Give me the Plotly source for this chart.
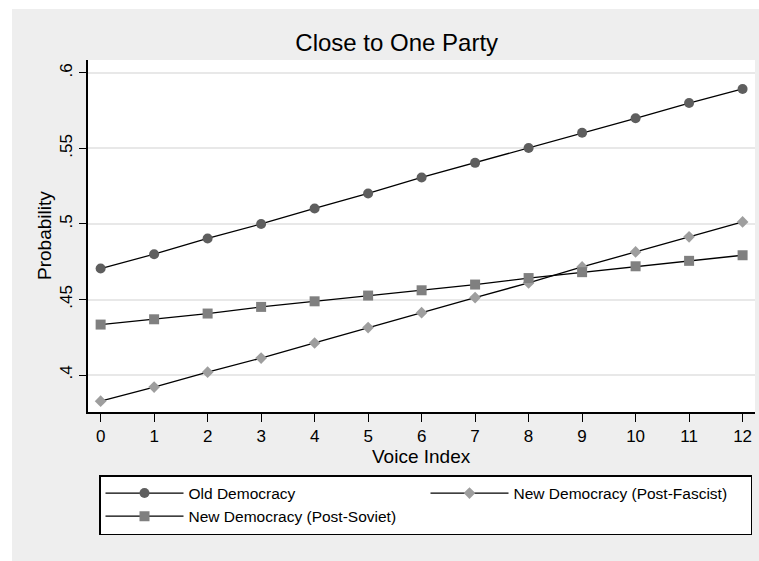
import plotly.graph_objects as go

voice_index = list(range(13))
old_democracy = [0.4705, 0.480, 0.4904, 0.500, 0.5103, 0.5202, 0.5308, 0.5405, 0.5503, 0.5604, 0.570, 0.5801, 0.5894]
post_fascist = [0.3827, 0.392, 0.4019, 0.4112, 0.4212, 0.4314, 0.4413, 0.4513, 0.461, 0.4716, 0.4815, 0.4915, 0.5014]
post_soviet = [0.4334, 0.4369, 0.4407, 0.4451, 0.4488, 0.4526, 0.4561, 0.4599, 0.4642, 0.4681, 0.472, 0.4756, 0.4793]
y_tickvals = [0.4, 0.45, 0.5, 0.55, 0.6]
y_ticktext = [".4", ".45", ".5", ".55", ".6"]

FONT = "Liberation Sans, Arial, sans-serif"
W, H = 759, 561
L, R, T, B = 88, 4, 60, 149
pw, ph = W - L - R, H - T - B

def px_x(p):
    return (p - L) / pw

def px_y(p):
    return (H - B - p) / ph

fig = go.Figure()
fig.add_trace(go.Scatter(
    x=voice_index, y=old_democracy, name="Old Democracy", mode="lines+markers",
    line=dict(color="black", width=1.3),
    marker=dict(symbol="circle", size=10, color="#5e5e5e"),
))
fig.add_trace(go.Scatter(
    x=voice_index, y=post_fascist, name="New Democracy (Post-Fascist)", mode="lines+markers",
    line=dict(color="black", width=1.3),
    marker=dict(symbol="diamond", size=9, color="#9e9e9e"),
))
fig.add_trace(go.Scatter(
    x=voice_index, y=post_soviet, name="New Democracy (Post-Soviet)", mode="lines+markers",
    line=dict(color="black", width=1.3),
    marker=dict(symbol="square", size=10, color="#808080"),
))

fig.update_layout(
    width=W, height=H,
    margin=dict(l=L, r=R, t=T, b=B),
    paper_bgcolor="#eeeeee",
    plot_bgcolor="white",
    font=dict(family=FONT, color="black"),
    showlegend=True,
    legend=dict(
        orientation="h",
        x=px_x(99), y=px_y(475), xanchor="left", yanchor="top",
        bgcolor="white", bordercolor="black", borderwidth=1.5,
        font=dict(size=15.5, family=FONT),
        entrywidth=232, entrywidthmode="pixels",
        itemwidth=78,
        traceorder="normal",
    ),
    xaxis=dict(
        range=[-0.236, 12.232],
        tickvals=voice_index,
        ticks="outside", ticklen=8, tickwidth=1.3, tickcolor="black",
        showline=True, linecolor="black", linewidth=2,
        showgrid=False, zeroline=False,
        tickfont=dict(size=17, family=FONT),
    ),
    yaxis=dict(
        range=[0.3755, 0.6086],
        tickvals=y_tickvals, ticktext=y_ticktext,
        tickangle=-90,
        ticks="outside", ticklen=7, tickwidth=1.3, tickcolor="black",
        ticklabelstandoff=0,
        showline=True, linecolor="black", linewidth=1.5,
        showgrid=True, gridcolor="#e8e8e8", gridwidth=1.5,
        zeroline=False,
        tickfont=dict(size=17, family=FONT),
    ),
    title=dict(
        text="Close to One Party",
        x=396.7 / W, xanchor="center",
        y=1 - 43 / H, yanchor="middle",
        font=dict(size=24, family=FONT),
    ),
    annotations=[
        dict(text="Voice Index", xref="paper", yref="paper",
             x=px_x(421.5), y=px_y(456), xanchor="center", yanchor="middle",
             showarrow=False, font=dict(size=19, family=FONT)),
        dict(text="Probability", xref="paper", yref="paper", textangle=-90,
             x=px_x(44), y=px_y(236), xanchor="center", yanchor="middle",
             showarrow=False, font=dict(size=19, family=FONT)),
    ],
    shapes=[
        dict(type="rect", xref="paper", yref="paper", layer="below",
             x0=px_x(0), x1=px_x(12), y0=px_y(H), y1=px_y(0),
             fillcolor="white", line=dict(width=0)),
        dict(type="rect", xref="paper", yref="paper", layer="below",
             x0=px_x(0), x1=px_x(W), y0=px_y(9), y1=px_y(0),
             fillcolor="white", line=dict(width=0)),
    ],
)

fig.write_html("out.html", config={"displayModeBar": False},
               post_script="document.body.style.margin='0';")
